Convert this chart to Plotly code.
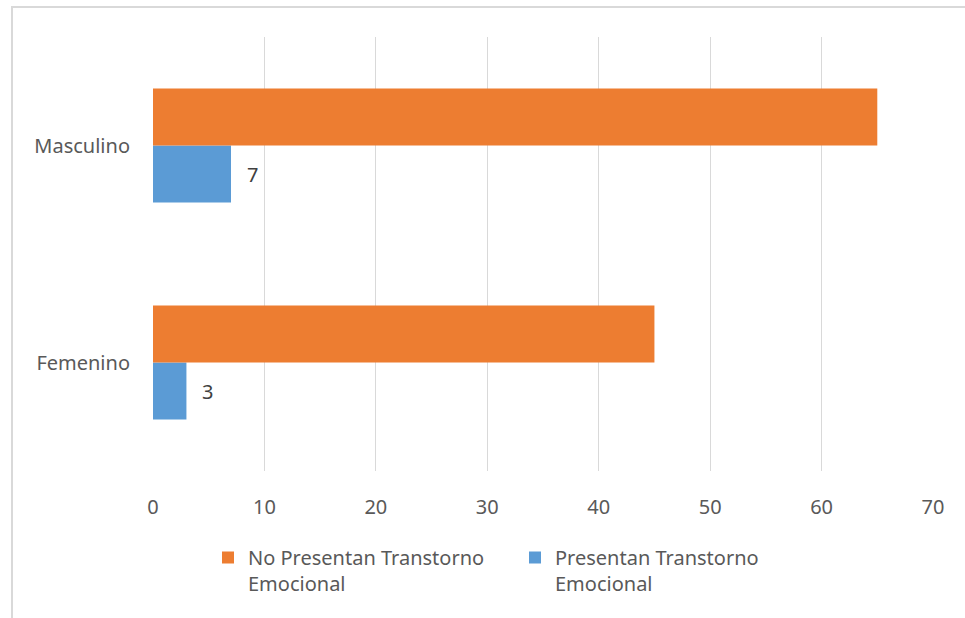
import plotly.graph_objects as go

categories = ["Femenino", "Masculino"]
no_presentan = [45, 65]
presentan = [3, 7]
x_ticks = [0, 10, 20, 30, 40, 50, 60, 70]
name_no = "No Presentan Transtorno<br>Emocional"
name_si = "Presentan Transtorno<br>Emocional"

FONT = "Noto Sans"
TXT = "#595959"

fig = go.Figure()
fig.add_trace(go.Bar(
    y=categories, x=presentan, orientation="h", name=name_si,
    marker=dict(color="#5B9BD5", line=dict(width=0)), legendrank=2,
))
fig.add_trace(go.Bar(
    y=categories, x=no_presentan, orientation="h", name=name_no,
    marker=dict(color="#ED7D31", line=dict(width=0)), legendrank=1,
))
# data labels for the blue series
for c, v in zip(categories, presentan):
    fig.add_annotation(x=v, y=c, text=str(v), showarrow=False, xanchor="left",
                       xshift=14, yshift=-29, font=dict(size=20, color="#404040", family=FONT))

fig.add_shape(type="rect", xref="paper", yref="paper",
              x0=(12 - 153) / 780, x1=1.2, y0=-0.5, y1=1 + 30 / 434,
              line=dict(color="#D9D9D9", width=2), layer="below")

fig.update_layout(
    width=965, height=618,
    margin=dict(l=153, r=32, t=37, b=147),
    paper_bgcolor="white", plot_bgcolor="white",
    barmode="group", bargap=0.475, bargroupgap=0,
    font=dict(family=FONT, size=20, color=TXT),
    xaxis=dict(range=[0, 70], tickvals=x_ticks, showgrid=True, gridcolor="#D9D9D9",
               gridwidth=1, zeroline=False, showline=False, ticks="",
               ticklabelstandoff=22, tickfont=dict(size=20, color=TXT)),
    yaxis=dict(showgrid=False, zeroline=False, showline=False, ticks="",
               ticklabelstandoff=22, tickfont=dict(size=20, color=TXT)),
    legend=dict(orientation="h", x=(208 - 153) / 780, xanchor="left",
                y=-(538 - 471) / 434, yanchor="top", entrywidth=262,
                entrywidthmode="pixels", font=dict(size=20, color=TXT),
                valign="top", itemclick=False),
    showlegend=True,
)
fig.write_html("out.html")
